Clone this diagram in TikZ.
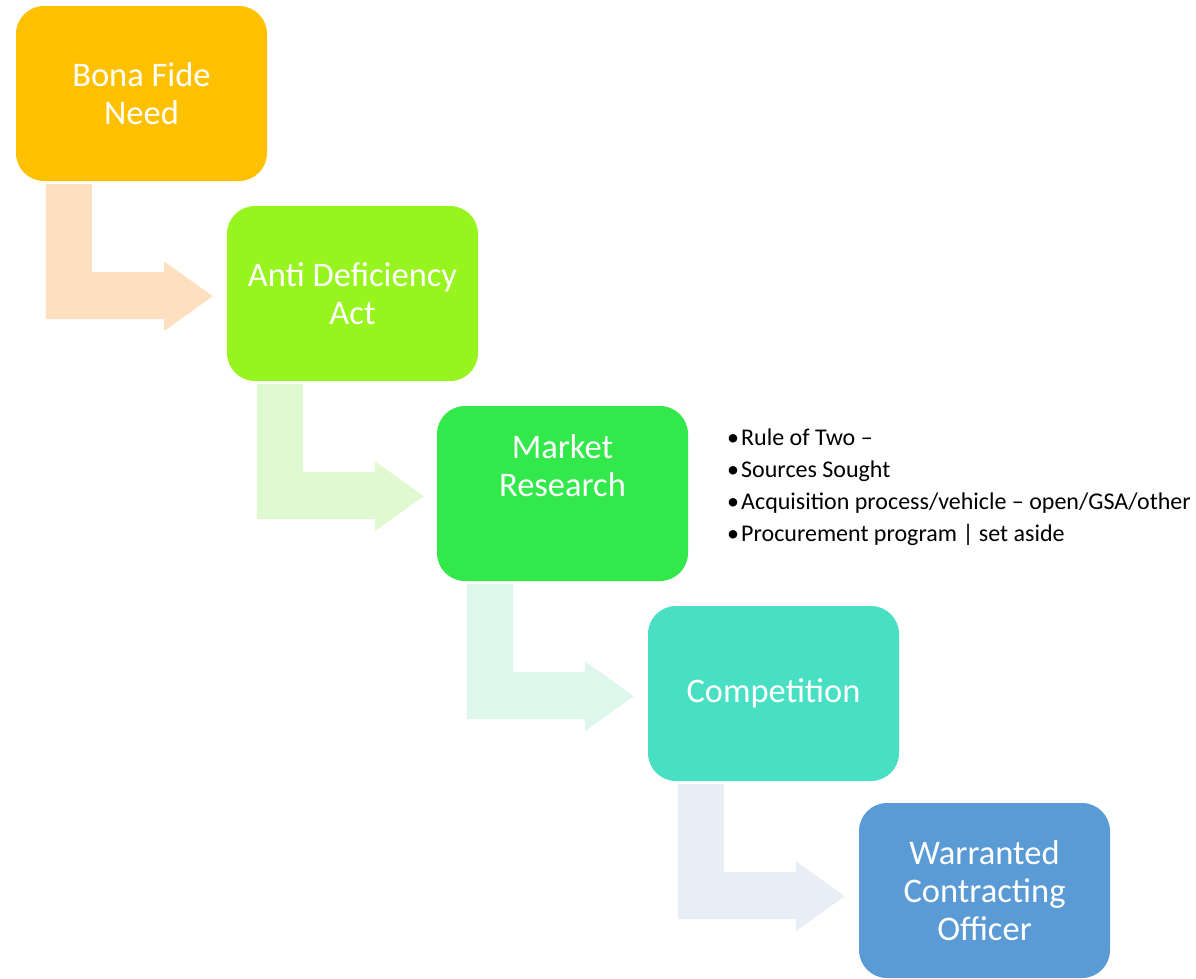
\documentclass[tikz,border=0pt]{standalone}
\usepackage{fontspec}
\setmainfont{Carlito}
\usetikzlibrary{calc}
\definecolor{cA}{HTML}{FFC000}
\definecolor{cB}{HTML}{97F41E}
\definecolor{cC}{HTML}{32E84A}
\definecolor{cD}{HTML}{48DFC2}
\definecolor{cE}{HTML}{5B9BD5}
\definecolor{aA}{HTML}{FEE0C1}
\definecolor{aB}{HTML}{E0F9D0}
\definecolor{aC}{HTML}{DEF7EC}
\definecolor{aD}{HTML}{E8EDF6}
\newcommand{\bentarr}[2]{%
  \begin{scope}[shift={(#1.south west)}]
    \fill[#2] (30,3) -- (76,3) -- (76,91) -- (148,91) -- (148,80) -- (197,115)
      -- (148,150) -- (148,138) -- (30,138) -- cycle;
  \end{scope}}
\begin{document}
\begin{tikzpicture}[x=1pt,y=-1pt,
  stepbox/.style={rounded corners=28pt, minimum width=251pt, minimum height=175pt,
    inner sep=0pt},
  steptext/.style={text=white, align=center, font=\fontsize{34.5}{38}\selectfont},
  bullets/.style={anchor=base west, align=left, inner sep=0pt,
    font=\fontsize{24}{31.7}\selectfont}]
\useasboundingbox (0,0) rectangle (1196,978);
\node[stepbox, fill=cA] (b1) at (141.5,93.5) {};
\node[stepbox, fill=cB] (b2) at (352.5,293.5) {};
\node[stepbox, fill=cC] (b3) at (562.5,493.5) {};
\node[stepbox, fill=cD] (b4) at (773.5,693.5) {};
\node[stepbox, fill=cE] (b5) at (984.5,890.5) {};
\bentarr{b1}{aA}
\bentarr{b2}{aB}
\bentarr{b3}{aC}
\bentarr{b4}{aD}
\node[steptext] (t1) at (b1.center) {Bona Fide\\Need};
\node[steptext] (t2) at (b2.center) {Anti Deficiency\\Act};
\node[steptext] (t3) at ($(b3.center)+(0,-27.5)$) {Market\\Research};
\node[steptext] (t4) at (b4.center) {Competition};
\node[steptext] (t5) at (b5.center) {Warranted\\Contracting\\Officer};
\node[bullets] (bl) at (727,541) {\makebox[14pt][l]{•}Rule of Two –\\
\makebox[14pt][l]{•}Sources Sought\\
\makebox[14pt][l]{•}Acquisition process/vehicle – open/GSA/other\\
\makebox[14pt][l]{•}Procurement program | set aside};
\end{tikzpicture}
\end{document}
